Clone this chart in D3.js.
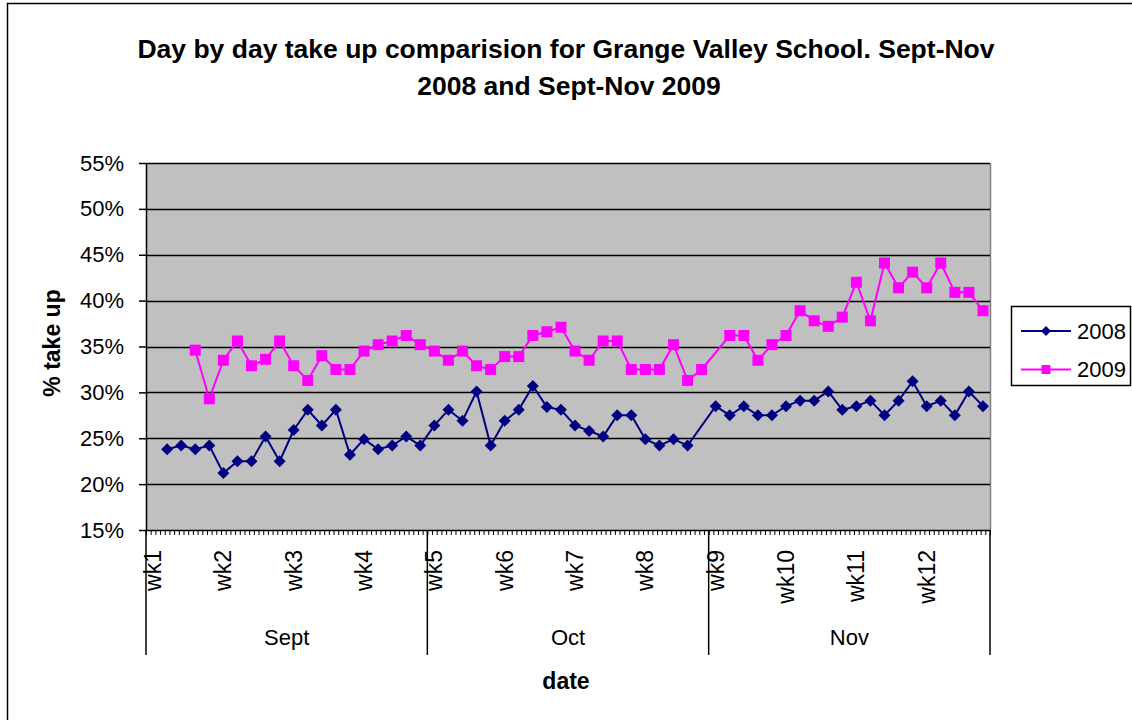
<!DOCTYPE html>
<html>
<head>
<meta charset="utf-8">
<script src="https://cdn.jsdelivr.net/npm/d3@7"></script>
<style>
body { margin: 0; background: #fff; }
text { font-family: Arial, "Liberation Sans", sans-serif; fill: #000; }
</style>
</head>
<body>
<svg width="1132" height="720"></svg>
<script>
// categories
var weeks = ["wk1", "wk2", "wk3", "wk4", "wk5", "wk6", "wk7", "wk8", "wk9", "wk10", "wk11", "wk12"]
var months = ["Sept", "Oct", "Nov"]
var daysPerWeek = 5
var weeksPerMonth = 4

// % take up, one value per school day (null = no reading)
var take2008 = [null, 23.8, 24.2, 23.8, 24.2, 21.2, 22.5, 22.5, 25.2, 22.5,
  25.9, 28.1, 26.4, 28.1, 23.2, 24.9, 23.8, 24.2, 25.2, 24.2,
  26.4, 28.1, 26.9, 30.1, 24.2, 26.9, 28.1, 30.7, 28.4, 28.1,
  26.4, 25.8, 25.2, 27.5, 27.5, 24.9, 24.2, 24.9, 24.2, null,
  28.5, 27.5, 28.5, 27.5, 27.5, 28.5, 29.1, 29.1, 30.1, 28.1,
  28.5, 29.1, 27.5, 29.1, 31.2, 28.5, 29.1, 27.5, 30.1, 28.5]
var take2009 = [null, null, null, 34.6, 29.3, 33.5, 35.6, 32.9, 33.6, 35.6,
  32.9, 31.3, 34.0, 32.5, 32.5, 34.5, 35.2, 35.6, 36.2, 35.2,
  34.5, 33.5, 34.5, 32.9, 32.5, 33.9, 33.9, 36.2, 36.6, 37.1,
  34.5, 33.5, 35.6, 35.6, 32.5, 32.5, 32.5, 35.2, 31.3, 32.5,
  null, 36.2, 36.2, 33.5, 35.2, 36.2, 38.9, 37.8, 37.2, 38.2,
  42.0, 37.8, 44.1, 41.4, 43.1, 41.4, 44.1, 40.9, 40.9, 38.9]
var yTicks = [15, 20, 25, 30, 35, 40, 45, 50, 55]

var series = [
  {name: "2008", values: take2008, color: "#000080", shape: "diamond"},
  {name: "2009", values: take2009, color: "#FF00FF", shape: "square"}
]

var svg = d3.select("svg")
// plot area edges (note: "top" is a reserved window property, so use pl/pr/pt/pb)
var pl = 146, pr = 990, pt = 163, pb = 530

// outer chart border
svg.append("rect")
    .attr("x", 7.5).attr("y", 3.5)
    .attr("width", 1200).attr("height", 800)
    .attr("fill", "none").attr("stroke", "#000").attr("stroke-width", 1.5)

var nDays = weeks.length * daysPerWeek
var x = d3.scaleBand().domain(d3.range(nDays)).range([pl, pr])
var bw = x.bandwidth()
var y = d3.scaleLinear().domain([15, 55]).range([pb, pt])

// plot area
svg.append("rect")
    .attr("x", pl).attr("y", pt)
    .attr("width", pr - pl).attr("height", pb - pt)
    .attr("fill", "#C0C0C0")
svg.append("line")
    .attr("x1", pr + 0.5).attr("x2", pr + 0.5)
    .attr("y1", pt).attr("y2", pb)
    .attr("stroke", "#808080").attr("stroke-width", 1.5)

// gridlines
svg.append("g").selectAll("line")
  .data(yTicks.slice(1))
  .enter().append("line")
    .attr("x1", pl).attr("x2", pr)
    .attr("y1", function(d) { return Math.round(y(d)) + 0.5 })
    .attr("y2", function(d) { return Math.round(y(d)) + 0.5 })
    .attr("stroke", "#000").attr("stroke-width", 1.5)

// y axis
var yAxis = svg.append("g")
    .attr("transform", "translate(" + pl + ",0)")
    .call(d3.axisLeft(y).tickValues(yTicks).tickFormat(function(d) { return d + "%" })
      .tickSize(7).tickSizeOuter(0).tickPadding(15))
yAxis.selectAll("path, line").attr("stroke", "#000").attr("stroke-width", 1.5)
yAxis.selectAll("text").style("font-size", "22px").attr("fill", "#000")

// x axis with minor ticks (three per day)
var xt = d3.scaleLinear().domain([0, nDays * 3]).range([pl, pr])
var xAxis = svg.append("g")
    .attr("transform", "translate(0," + pb + ")")
    .call(d3.axisBottom(xt).tickValues(d3.range(nDays * 3 + 1)).tickFormat("")
      .tickSize(5).tickSizeOuter(0))
xAxis.selectAll("path, line").attr("stroke", "#000")
xAxis.select("path").attr("stroke-width", 1.5)

// week labels
svg.append("g").selectAll("text")
  .data(weeks)
  .enter().append("text")
    .attr("transform", function(d, i) {
      return "translate(" + (x(i * daysPerWeek) + bw / 2) + ",550) rotate(-90)" })
    .attr("text-anchor", "end")
    .attr("dy", "0.35em")
    .style("font-size", "23px")
    .text(function(d) { return d })

// month groups
var mDays = daysPerWeek * weeksPerMonth
svg.append("g").selectAll("line")
  .data(d3.range(months.length + 1))
  .enter().append("line")
    .attr("x1", function(d) { return d < months.length ? x(d * mDays) : pr })
    .attr("x2", function(d) { return d < months.length ? x(d * mDays) : pr })
    .attr("y1", pb).attr("y2", 655)
    .attr("stroke", "#000").attr("stroke-width", 1.5)
svg.append("g").selectAll("text")
  .data(months)
  .enter().append("text")
    .attr("x", function(d, i) { return x(i * mDays) + bw * mDays / 2 })
    .attr("y", 645)
    .attr("text-anchor", "middle")
    .style("font-size", "22px")
    .text(function(d) { return d })

// series
var line = d3.line()
    .x(function(d) { return x(d.i) + bw / 2 })
    .y(function(d) { return y(d.v) })

function marker(shape) {
  return shape === "diamond" ? d3.symbol(d3.symbolSquare, 72)() : d3.symbol(d3.symbolSquare, 121)()
}

series.forEach(function(s) {
  var pts = s.values.map(function(v, i) { return {i: i, v: v} })
    .filter(function(d) { return d.v !== null })
  svg.append("path")
      .datum(pts)
      .attr("d", line)
      .attr("fill", "none")
      .attr("stroke", s.color)
      .attr("stroke-width", 2)
  svg.append("g").selectAll("path")
    .data(pts)
    .enter().append("path")
      .attr("d", marker(s.shape))
      .attr("transform", function(d) {
        return "translate(" + (x(d.i) + bw / 2) + "," + y(d.v) + ")" + (s.shape === "diamond" ? " rotate(45)" : "") })
      .attr("fill", s.color)
})

// titles
var title = svg.append("text")
    .attr("text-anchor", "middle")
    .style("font-size", "26.5px").style("font-weight", "bold")
title.append("tspan").attr("x", 566).attr("y", 58).text("Day by day take up comparision for Grange Valley School. Sept-Nov")
title.append("tspan").attr("x", 569).attr("y", 95).text("2008 and Sept-Nov 2009")

svg.append("text")
    .attr("transform", "translate(52,343) rotate(-90)")
    .attr("text-anchor", "middle")
    .attr("dy", "0.35em")
    .style("font-size", "23px").style("font-weight", "bold")
    .text("% take up")

svg.append("text")
    .attr("x", 566).attr("y", 689)
    .attr("text-anchor", "middle")
    .style("font-size", "23px").style("font-weight", "bold")
    .text("date")

// legend
var legend = svg.append("g")
legend.append("rect")
    .attr("x", 1011.5).attr("y", 306.5)
    .attr("width", 119).attr("height", 79)
    .attr("fill", "#fff").attr("stroke", "#000").attr("stroke-width", 1.5)
var item = legend.selectAll(".item")
  .data(series)
  .enter().append("g")
    .attr("class", "item")
    .attr("transform", function(d, i) { return "translate(0," + (331 + i * 38.5) + ")" })
item.append("line")
    .attr("x1", 1021).attr("x2", 1071)
    .attr("stroke", function(d) { return d.color })
    .attr("stroke-width", 2)
item.append("path")
    .attr("d", function(d) { return d.shape === "diamond" ? d3.symbol(d3.symbolSquare, 50)() : d3.symbol(d3.symbolSquare, 81)() })
    .attr("transform", function(d) { return "translate(1046,0)" + (d.shape === "diamond" ? " rotate(45)" : "") })
    .attr("fill", function(d) { return d.color })
item.append("text")
    .attr("x", 1077)
    .attr("dy", "0.35em")
    .style("font-size", "22px")
    .text(function(d) { return d.name })
</script>
</body>
</html>
